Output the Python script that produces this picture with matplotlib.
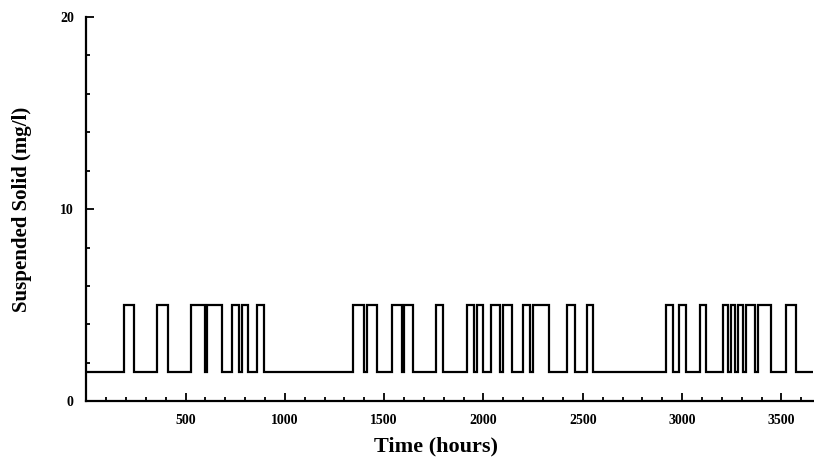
import numpy as np
import matplotlib
matplotlib.use("Agg")
import matplotlib.pyplot as plt
from matplotlib.ticker import MultipleLocator, FixedLocator

# suspended solid record: background level with switching pulses
base_level = 1.5   # mg/l
peak_level = 5.0   # mg/l
t_end = 3660       # hours

pulse_on = [190, 355, 525, 610, 735, 785, 860,
            1345, 1415, 1540, 1600, 1760, 1915, 1965, 2040, 2100,
            2200, 2250, 2420, 2520,
            2920, 2985, 3090, 3205, 3245, 3280, 3320, 3380, 3525]
pulse_off = [240, 410, 600, 685, 770, 815, 895,
             1400, 1465, 1590, 1645, 1795, 1950, 1995, 2085, 2145,
             2235, 2330, 2460, 2550,
             2955, 3020, 3120, 3230, 3265, 3305, 3365, 3450, 3575]

x_ticks = [500, 1000, 1500, 2000, 2500, 3000, 3500]
y_ticks = [0, 10, 20]

# build the step trace
t = [0]
y = [base_level]
for on, off in zip(pulse_on, pulse_off):
    t += [on, on, off, off]
    y += [base_level, peak_level, peak_level, base_level]
t.append(t_end)
y.append(base_level)

serif = ["Liberation Serif", "DejaVu Serif"]

fig = plt.figure(figsize=(8.14, 4.72), dpi=100)
ax = fig.add_axes([0.106, 0.150, 0.893, 0.814])

ax.plot(t, y, color="black", lw=1.6, solid_joinstyle="miter")

ax.set_xlim(0, t_end)
ax.set_ylim(0, 20)

for s in ("top", "right"):
    ax.spines[s].set_visible(False)
for s in ("left", "bottom"):
    ax.spines[s].set_linewidth(1.6)

ax.xaxis.set_major_locator(FixedLocator(x_ticks))
ax.xaxis.set_minor_locator(MultipleLocator(100))
ax.yaxis.set_major_locator(FixedLocator(y_ticks))
ax.yaxis.set_minor_locator(MultipleLocator(2))

ax.tick_params(which="both", direction="in", width=1.3)
ax.tick_params(which="major", length=6)
ax.tick_params(which="minor", length=3)
ax.tick_params(axis="x", which="major", pad=9)
ax.tick_params(axis="y", which="major", pad=9)

for lab in ax.get_xticklabels() + ax.get_yticklabels():
    lab.set_family(serif)
    lab.set_fontweight("bold")
    lab.set_fontsize(10)

ax.set_xlabel("Time (hours)", family=serif, fontsize=16, fontweight="bold")
ax.set_ylabel("Suspended Solid (mg/l)", family=serif, fontsize=15, fontweight="bold")
ax.xaxis.set_label_coords(0.481, -0.093)
ax.yaxis.set_label_coords(-0.074, 0.5)

fig.savefig("out.png", dpi=100)
